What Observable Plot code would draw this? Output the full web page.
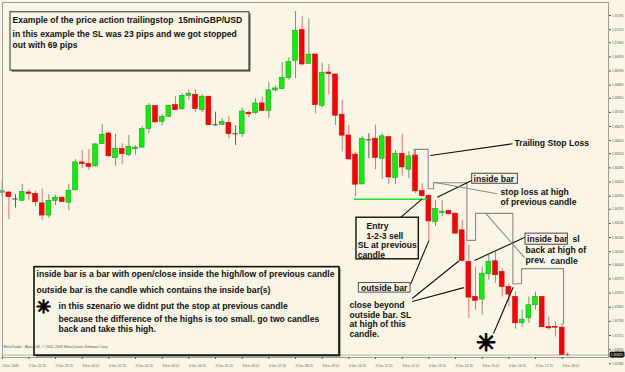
<!DOCTYPE html>
<html><head><meta charset="utf-8">
<script src="https://cdn.jsdelivr.net/npm/d3@7"></script>
<script src="https://cdn.jsdelivr.net/npm/@observablehq/plot@0.6"></script>
<style>
html,body{margin:0;padding:0;background:#fbf5e6;overflow:hidden;}
#chart svg{display:block;}
</style></head><body><div id="chart"></div>
<script>
// ---- candle data (15 min GBP/USD) ----
const opens = [1.66371,1.66372,1.66342,1.66334,1.66372,1.66365,1.66322,1.66266,1.66333,1.66348,
1.66325,1.66382,1.66510,1.66502,1.66492,1.66594,1.66643,1.66530,1.66571,1.66545,
1.66571,1.66578,1.66663,1.66769,1.66697,1.66720,1.66773,1.66754,1.66816,1.66821,
1.66750,1.66812,1.66683,1.66683,1.66692,1.66642,1.66640,1.66738,1.66736,1.66781,
1.66747,1.66841,1.66847,1.66897,1.66977,1.67118,1.66963,1.67006,1.66770,1.66923,
1.66914,1.66729,1.66634,1.66546,1.66409,1.66614,1.66619,1.66527,1.66626,1.66438,
1.66550,1.66477,1.66542,1.66378,1.66356,1.66236,1.66277,1.66287,1.66275,1.66198,
1.66053,1.65892,1.65880,1.65996,1.66056,1.66007,1.65938,1.65892,1.65772,1.65794,
1.65854,1.65892,1.65754,1.65754,1.65751];
const highs = [1.66428,1.66375,1.66362,1.66409,1.66385,1.66378,1.66388,1.66362,1.66359,1.66351,
1.66409,1.66523,1.66564,1.66569,1.66595,1.66686,1.66649,1.66639,1.66596,1.66634,
1.66587,1.66676,1.66780,1.66770,1.66730,1.66772,1.66812,1.66826,1.66842,1.66844,
1.66821,1.66813,1.66741,1.66711,1.66721,1.66679,1.66760,1.66746,1.66804,1.66810,
1.66877,1.66862,1.66969,1.66991,1.67203,1.67180,1.67170,1.67007,1.66966,1.66960,
1.66915,1.66795,1.66680,1.66555,1.66630,1.66642,1.66681,1.66642,1.66626,1.66565,
1.66639,1.66559,1.66570,1.66412,1.66362,1.66337,1.66336,1.66290,1.66276,1.66244,
1.66129,1.66030,1.66030,1.66083,1.66098,1.66022,1.65953,1.65915,1.65831,1.65892,
1.65915,1.65893,1.65799,1.65777,1.65770];
const lows = [1.66351,1.66247,1.66300,1.66332,1.66334,1.66308,1.66243,1.66253,1.66311,1.66327,
1.66289,1.66380,1.66481,1.66473,1.66489,1.66592,1.66533,1.66493,1.66500,1.66536,
1.66544,1.66576,1.66642,1.66692,1.66677,1.66715,1.66748,1.66752,1.66795,1.66740,
1.66740,1.66680,1.66676,1.66680,1.66619,1.66588,1.66625,1.66715,1.66731,1.66745,
1.66712,1.66833,1.66846,1.66887,1.66894,1.66954,1.66962,1.66734,1.66761,1.66822,
1.66680,1.66558,1.66519,1.66351,1.66408,1.66527,1.66477,1.66432,1.66409,1.66409,
1.66446,1.66435,1.66367,1.66351,1.66152,1.66216,1.66262,1.66267,1.66182,1.66056,
1.65793,1.65831,1.65808,1.65969,1.65953,1.65892,1.65846,1.65744,1.65754,1.65770,
1.65831,1.65751,1.65739,1.65708,1.65624];
const closes = [1.66378,1.66351,1.66342,1.66374,1.66365,1.66327,1.66266,1.66334,1.66348,1.66328,
1.66380,1.66510,1.66502,1.66490,1.66593,1.66637,1.66538,1.66573,1.66548,1.66582,
1.66578,1.66663,1.66769,1.66694,1.66720,1.66770,1.66750,1.66816,1.66826,1.66755,
1.66812,1.66681,1.66683,1.66697,1.66640,1.66642,1.66744,1.66731,1.66781,1.66746,
1.66841,1.66850,1.66899,1.66971,1.67115,1.66960,1.67005,1.66773,1.66922,1.66916,
1.66725,1.66633,1.66524,1.66408,1.66617,1.66614,1.66530,1.66630,1.66441,1.66550,
1.66487,1.66538,1.66377,1.66355,1.66239,1.66296,1.66284,1.66272,1.66183,1.66057,
1.65889,1.65874,1.65999,1.66054,1.65992,1.65938,1.65903,1.65771,1.65788,1.65854,
1.65892,1.65753,1.65748,1.65751,1.65625];

// ---- axes ----
const timeTickIdx = [0,4,8,12,16,20,24,28,32,36,40,44,48,52,56,60,64,68,72,76,80,84];
const timeLabels = ["2 Dec 2009","2 Dec 22:15","2 Dec 23:15","3 Dec 00:15","3 Dec 01:15","3 Dec 02:15",
"3 Dec 03:15","3 Dec 04:15","3 Dec 05:15","3 Dec 06:15","3 Dec 07:15","3 Dec 08:15","3 Dec 09:15",
"3 Dec 10:15","3 Dec 11:15","3 Dec 12:15","3 Dec 13:15","3 Dec 14:15","3 Dec 15:15","3 Dec 16:15",
"3 Dec 17:15","3 Dec 18:15"];
const priceTicks = [1.67185,1.67120,1.67060,1.66995,1.66930,1.66865,1.66805,1.66740,1.66675,1.66610,
1.66550,1.66485,1.66420,1.66355,1.66295,1.66230,1.66165,1.66100,1.66040,1.65975,1.65910,1.65845,
1.65780,1.65715,1.65650,1.65585];
const lastPrice = 1.65625;

// ---- annotations (candle index / price) ----
const stopK = [61.8,61.8,63.9,63.9,64.7,64.7,69.7,69.7,71.0,71.0,76.6,76.6,77.9,77.9,84.2,84.2];
const stopP = [1.66542,1.66570,1.66570,1.66389,1.66389,1.66417,1.66417,1.66152,1.66152,1.66276,1.66276,1.65953,1.65953,1.66022,1.66022,1.65770];
const entryLine = [{k1:52.85,k2:63.8,p:1.66341}];
const pointers = [
 {k1:64.24,p1:1.66542,k2:76.55,p2:1.66596,c:"#111"},
 {k1:65.25,p1:1.66350,k2:70.5,p2:1.66428,c:"#111"},
 {k1:59.25,p1:1.66244,k2:63.0,p2:1.66343,c:"#111"},
 {k1:61.25,p1:1.65950,k2:64.02,p2:1.66152,c:"#111"},
 {k1:61.5,p1:1.65885,k2:68.49,p2:1.66057,c:"#111"},
 {k1:61.5,p1:1.65871,k2:69.24,p2:1.65935,c:"#111"},
 {k1:70.85,p1:1.66060,k2:78.5,p2:1.66167,c:"#111"},
 {k1:73.7,p1:1.65724,k2:76.65,p2:1.65937,c:"#111"},
 {k1:64.74,p1:1.66419,k2:74.25,p2:1.66366,c:"#8a8a8a"},
 {k1:72.5,p1:1.66277,k2:78.35,p2:1.66073,c:"#8a8a8a"}
];
const boxes = [
 {k1:1.245,k2:37.09,p1:1.67200,p2:1.66932,sw:1,c:"#333",sh:true},
 {k1:4.845,k2:50.59,p1:1.66029,p2:1.65623,sw:1.6,c:"#111",sh:true},
 {k1:53.14,k2:62.49,p1:1.66256,p2:1.66065,sw:1.4,c:"#111",sh:false},
 {k1:70.5,k2:77.35,p1:1.66458,p2:1.66412,sw:1,c:"#444",sh:false},
 {k1:53.5,k2:61.25,p1:1.65956,p2:1.65912,sw:1,c:"#555",sh:false},
 {k1:78.5,k2:84.85,p1:1.66183,p2:1.66132,sw:1,c:"#444",sh:false}
];
const whiteBg = [{k1:81.95,k2:86.3,p1:1.66076,p2:1.66042}];
const notes = [
 {k:1.545,p:1.67165,t:"Example of the price action trailingstop  15minGBP/USD"},
 {k:1.545,p:1.67098,t:"in this example the SL was 23 pips and we got stopped"},
 {k:1.545,p:1.67050,t:"out with 69 pips"},
 {k:5.145,p:1.65998,t:"inside bar is a bar with open/close inside the high/low of previous candle"},
 {k:5.145,p:1.65925,t:"outside bar is the candle which contains the inside bar(s)"},
 {k:8.445,p:1.65848,t:"in this szenario we didnt put the stop at previous candle"},
 {k:8.445,p:1.65792,t:"because the difference of the highs is too small. go two candles"},
 {k:8.445,p:1.65743,t:"back and take this high."},
 {k:76.85,p:1.66596,t:"Trailing Stop Loss"},
 {k:74.75,p:1.66374,t:"stop loss at high"},
 {k:74.75,p:1.66328,t:"of previous candle"},
 {k:70.7,p:1.66435,t:"inside bar"},
 {k:54.64,p:1.66218,t:"Entry"},
 {k:54.64,p:1.66172,t:"1-2-3 sell"},
 {k:53.34,p:1.66129,t:"SL at previous"},
 {k:53.34,p:1.66083,t:"candle"},
 {k:53.82,p:1.65933,t:"outside bar"},
 {k:52.1,p:1.65856,t:"close beyond"},
 {k:52.1,p:1.65810,t:"outside bar. SL"},
 {k:52.1,p:1.65766,t:"at high of this"},
 {k:52.1,p:1.65720,t:"candle."},
 {k:78.72,p:1.66157,t:"inside bar"},
 {k:85.55,p:1.66157,t:"sl"},
 {k:78.5,p:1.66106,t:"back at high of"},
 {k:78.5,p:1.66062,t:"prev."},
 {k:82.25,p:1.66057,t:"candle"}
];
const stars = [{k:72.5,p:1.65677,s:24},{k:6.24,p:1.65845,s:18}];
const footer = [{k:0.2,p:1.65661,t:"MetaTrader - Alpari UK, \u00a9 2001-2009 MetaQuotes Software Corp."}];
const tradeMark = [{k:84.8,p:1.65626}];

// ---- build ----
const candles = opens.map((o,i)=>({i,o,h:highs[i],l:lows[i],c:closes[i]}));
const bodyFill = d => d.c>d.o ? "#00f500" : d.c<d.o ? "#ff0000" : "#3d5a3d";
const bodyStroke = d => d.c>d.o ? "#2a9a2a" : d.c<d.o ? "#d80000" : "#3d5a3d";
const wickCol = d => d.c>d.o ? "#6f9a68" : d.c<d.o ? "#e77070" : "#4a6a4a";
const stopPath = stopK.map((k,j)=>({k,p:stopP[j]}));
const BG = "#fbf5e6";
const FONT = "'Liberation Sans', Arial, sans-serif";

const chart = Plot.plot({
  width:625, height:372,
  marginLeft:2, marginRight:17, marginTop:2, marginBottom:15,
  style:{background:BG, fontFamily:FONT},
  x:{domain:[0,84], range:[1.7,561.7]},
  y:{domain:[1.65585,1.67185], range:[363.3,15]},
  marks:[
    Plot.ruleY([lastPrice],{stroke:"#b4b4b4",strokeWidth:1}),
    Plot.ruleX(candles,{x:"i",y1:"l",y2:"h",stroke:wickCol,strokeWidth:1}),
    Plot.rect(candles.filter(d=>d.c!==d.o),{x1:d=>d.i-0.36,x2:d=>d.i+0.36,y1:"o",y2:"c",fill:bodyFill,stroke:bodyStroke,strokeWidth:0.6}),
    Plot.ruleY(candles.filter(d=>d.c===d.o),{y:"o",x1:d=>d.i-0.4,x2:d=>d.i+0.4,stroke:"#3d5a3d",strokeWidth:1}),
    Plot.line(stopPath,{x:"k",y:"p",stroke:"#8a8a8a",strokeWidth:1.1}),
    Plot.ruleY(entryLine,{y:"p",x1:"k1",x2:"k2",stroke:"#22dd22",strokeWidth:1.3}),
    Plot.link(pointers,{x1:"k1",y1:"p1",x2:"k2",y2:"p2",stroke:"c",strokeWidth:1.1}),
    Plot.rect(boxes.filter(d=>d.sh),{x1:"k1",x2:"k2",y1:"p1",y2:"p2",fill:"#555",dx:1.5,dy:1.5}),
    Plot.rect(boxes,{x1:"k1",x2:"k2",y1:"p1",y2:"p2",fill:BG,stroke:"c",strokeWidth:"sw"}),
    Plot.rect(whiteBg,{x1:"k1",x2:"k2",y1:"p1",y2:"p2",fill:"#ffffff"}),
    Plot.text(notes,{x:"k",y:"p",text:"t",textAnchor:"start",fontSize:8.6,fontWeight:"bold",fill:"#111"}),
    Plot.text(stars,{x:"k",y:"p",text:()=>"\u2733",fontSize:"s",fill:"#000",stroke:"#000",strokeWidth:1.2}),
    Plot.text(footer,{x:"k",y:"p",text:"t",textAnchor:"start",fontSize:3.6,fill:"#555"}),
    Plot.text(tradeMark,{x:"k",y:"p",text:()=>"+",fontSize:7,fill:"#e00000"}),
    Plot.frame({stroke:"#9c9c9c",strokeWidth:1}),
    Plot.axisY({anchor:"right",ticks:priceTicks,tickFormat:d=>d.toFixed(5),tickSize:2,tickPadding:1.5,fontSize:3.2,color:"#555"}),
    Plot.text([lastPrice],{x:()=>91.3,y:d=>d,text:d=>d.toFixed(5),textAnchor:"start",fontSize:3.4,fill:"#fff",stroke:"#111",strokeWidth:3.2,paintOrder:"stroke"}),
    Plot.axisX({anchor:"bottom",ticks:timeTickIdx,tickFormat:d=>timeLabels[timeTickIdx.indexOf(d)],tickSize:2,tickPadding:5,textAnchor:"start",fontSize:3.2,color:"#555"})
  ]
});
document.getElementById("chart").appendChild(chart);
</script>
</body></html>
